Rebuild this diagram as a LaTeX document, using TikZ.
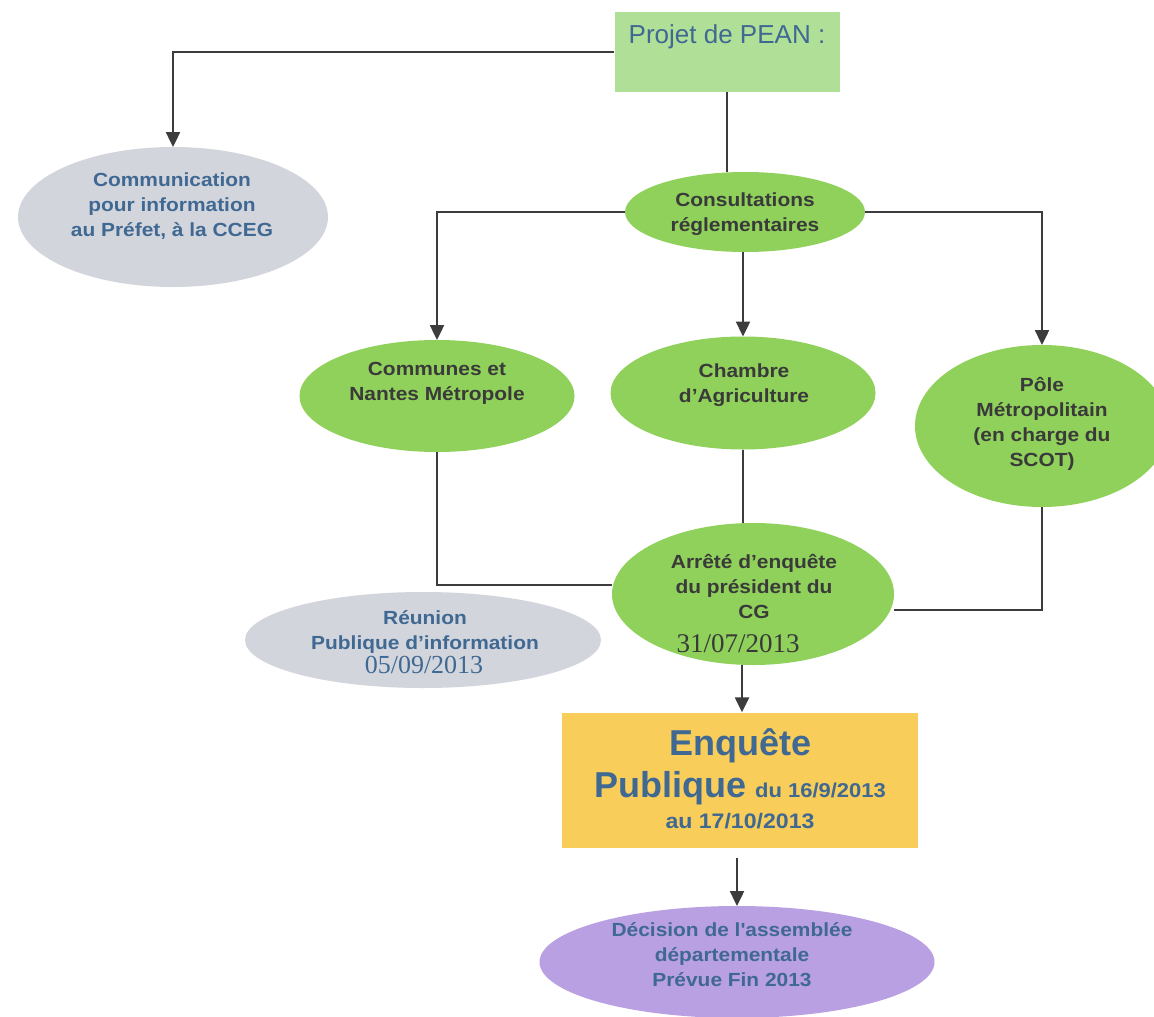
\documentclass[tikz,border=0pt]{standalone}
\usepackage{fontspec}
\setmainfont{Liberation Sans}
\newfontfamily\lblfont[FakeStretch=1.1]{Liberation Sans}
\newfontfamily\datefont{Liberation Serif}
\usetikzlibrary{shapes.geometric,arrows.meta,calc}
\definecolor{edgec}{HTML}{3C3C3C}
\definecolor{greenfill}{HTML}{8FD15A}
\definecolor{lightgreen}{HTML}{B0DF97}
\definecolor{grayfill}{HTML}{D3D5DC}
\definecolor{lavender}{HTML}{B9A0E2}
\definecolor{yellowfill}{HTML}{F8CD5A}
\definecolor{bluetext}{HTML}{3F6892}
\definecolor{darktext}{HTML}{3A3A3A}
\begin{document}
\begin{tikzpicture}[x=1pt,y=-1pt,
  ell/.style={ellipse, draw=none, inner sep=0pt, outer sep=0pt},
  greenell/.style={ell, fill=greenfill},
  grayell/.style={ell, fill=grayfill},
  lbl/.style={align=center, inner sep=0pt, font=\lblfont\fontsize{19}{25}\selectfont\bfseries},
  darklbl/.style={lbl, text=darktext},
  bluelbl/.style={lbl, text=bluetext},
  conn/.style={draw=edgec, line width=2.4pt},
  arr/.style={conn, -{Triangle[length=15pt,width=14pt]}}
]
\useasboundingbox (0,0) rectangle (1154,1017);
\clip (0,0) rectangle (1154,1017);
\fill[white] (0,0) rectangle (1154,1017);

% boxes and ellipses
\node[draw=none, fill=lightgreen, minimum width=225pt, minimum height=80pt, inner sep=0pt] (pean) at (727,52) {};
\node[grayell, minimum width=310pt, minimum height=140pt] (comm) at (173,217) {};
\node[greenell, minimum width=240pt, minimum height=80pt] (cons) at (745,212) {};
\node[greenell, minimum width=275pt, minimum height=112pt] (communes) at (437,396) {};
\node[greenell, minimum width=265pt, minimum height=113pt] (chambre) at (743,393) {};
\node[greenell, minimum width=254pt, minimum height=162pt] (pole) at (1042,426) {};
\node[grayell, minimum width=356pt, minimum height=96pt] (reunion) at (423,640) {};
\node[greenell, minimum width=282pt, minimum height=142pt] (arrete) at (753,594) {};
\node[draw=none, fill=yellowfill, minimum width=356pt, minimum height=135pt, inner sep=0pt] (enq) at (740,780) {};
\node[ell, fill=lavender, minimum width=395pt, minimum height=112pt] (dec) at (737,962) {};

% texts
\node[font=\fontsize{26}{30}\selectfont, text=bluetext, anchor=base, inner sep=0pt] (peanT) at (727,43) {Projet de PEAN :};
\node[bluelbl] (commT) at (172,206) {Communication\\pour information\\au Préfet, à la CCEG};
\node[darklbl] (consT) at (745,214) {Consultations\\réglementaires};
\node[darklbl] (communesT) at (437,383) {Communes et\\Nantes Métropole};
\node[darklbl] (chambreT) at (744,385) {Chambre\\d’Agriculture};
\node[darklbl] (poleT) at (1042,424) {Pôle\\Métropolitain\\(en charge du\\SCOT)};
\node[darklbl] (arreteT) at (754,586) {Arrêté d’enquête\\du président du\\CG};
\node[font=\datefont\fontsize{27}{30}\selectfont, text=darktext, anchor=base, inner sep=0pt] (arreteD) at (738,652) {31/07/2013};
\node[bluelbl] (reunionT) at (425,632) {Réunion\\Publique d’information};
\node[font=\datefont\fontsize{26}{30}\selectfont, text=bluetext, anchor=base, inner sep=0pt] (reunionD) at (424,673) {05/09/2013};
\node[font=\fontsize{36}{40}\selectfont\bfseries, text=bluetext, anchor=base, inner sep=0pt] (enqT1) at (740,755) {Enquête};
\node[text=bluetext, anchor=base, inner sep=0pt] (enqT2) at (740,797) {{\fontsize{36}{40}\selectfont\bfseries Publique}\hspace{9pt}{\lblfont\fontsize{20}{24}\selectfont\bfseries du 16/9/2013}};
\node[font=\lblfont\fontsize{21}{24}\selectfont\bfseries, text=bluetext, anchor=base, inner sep=0pt] (enqT3) at (740,828) {au 17/10/2013};
\node[bluelbl] (decT) at (732,955) {Décision de l'assemblée\\départementale\\Prévue Fin 2013};

% connectors
\draw[arr] (pean.west) -| (comm.north);
\draw[conn] (pean.south) -- (pean.south |- cons.north);
\draw[arr] (cons.west) -| (communes.north);
\draw[arr] (cons.east) -| (pole.north);
\draw[arr] (cons.south -| chambre.north) -- (chambre.north);
\draw[conn] (communes.south) |- ([yshift=9pt]arrete.west);
\draw[conn] (chambre.south) -- (chambre.south |- arrete.north);
\draw[conn] (pole.south) |- ([yshift=-16pt]arrete.east);
\draw[arr] (arrete.south -| 742,0) -- (enq.north -| 742,0);
\draw[arr] ([yshift=-10pt]enq.south -| dec.north) -- (dec.north);
\end{tikzpicture}
\end{document}
